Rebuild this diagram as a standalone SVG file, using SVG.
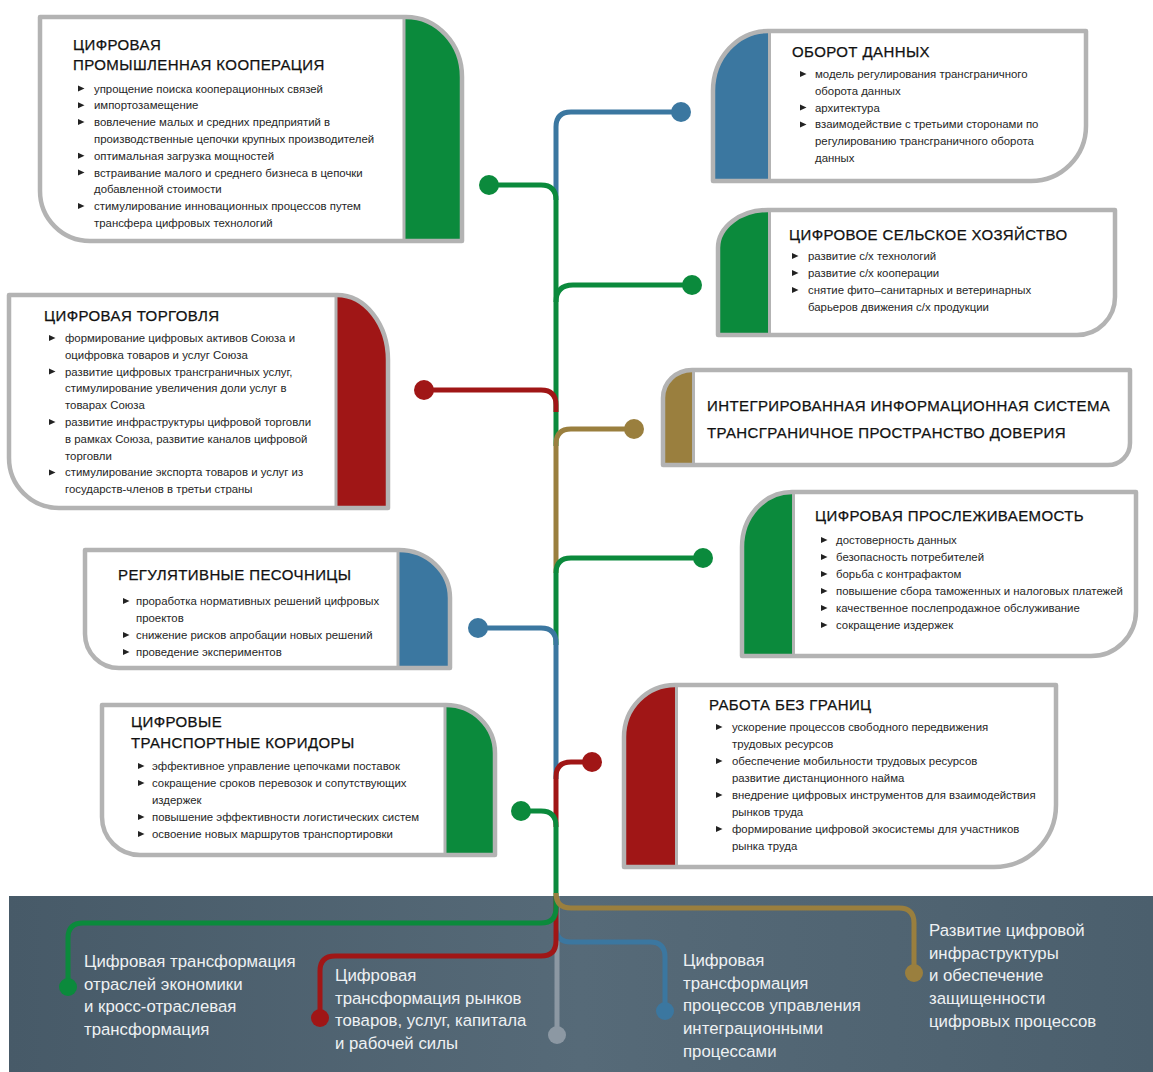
<svg xmlns="http://www.w3.org/2000/svg" xmlns:xlink="http://www.w3.org/1999/xlink" width="1153" height="1072" viewBox="0 0 1153 1072">
<style>
.fw{fill:#fff}
.bd{fill:none;stroke:#b3b3b3;stroke-width:4.5;stroke-linejoin:round}
.sep{stroke:#b3b3b3;stroke-width:3}
.g{fill:#0b8a3c}.r{fill:#a01616}.b{fill:#3b77a0}.o{fill:#9a7f3e}
.h{font-family:"Liberation Sans",Arial,sans-serif;font-size:15px;letter-spacing:0.4px;fill:#111;stroke:#111;stroke-width:0.25}
.t{font-family:"Liberation Sans",Arial,sans-serif;font-size:11.4px;fill:#262626}
.tri{fill:#222}
.ln{fill:none;stroke-width:5}
.sg{stroke:#0b8a3c}.sr{stroke:#a01616}.sb{stroke:#3b77a0}.so{stroke:#9a7f3e}.sy{stroke:#8c98a3}
.bt{font-family:"Liberation Sans",Arial,sans-serif;font-size:16.8px;fill:#eef1f3}
</style>
<defs>
<linearGradient id="band" x1="0" y1="0" x2="1" y2="0">
<stop offset="0" stop-color="#475a68"/>
<stop offset="0.5" stop-color="#566a78"/>
<stop offset="1" stop-color="#4b5f6d"/>
</linearGradient>
<polygon id="tr" points="0,-3 6.5,0 0,3"/>
<path id="o1" d="M40,17 H406 A56,60 0 0 1 462,77 V241 H90 A50,50 0 0 1 40,191 Z"/>
<path id="o2" d="M768,31 H1086 V126 A55,55 0 0 1 1031,181 H713 V91 A55,60 0 0 1 768,31 Z"/>
<path id="o3" d="M9,295 H337 A51,65 0 0 1 388,360 V508 H59 A50,50 0 0 1 9,458 Z"/>
<path id="o4" d="M768,210 H1115 V297 A38,38 0 0 1 1077,335 H718 V248 A50,38 0 0 1 768,210 Z"/>
<path id="o5" d="M692,370 H1130 V443 A22,22 0 0 1 1108,465 H663 V398 A29,28 0 0 1 692,370 Z"/>
<path id="o6" d="M792,492 H1136 V611 A45,45 0 0 1 1091,656 H742 V547 A50,55 0 0 1 792,492 Z"/>
<path id="o7" d="M85,550 H399 A51,48 0 0 1 450,598 V668 H119 A34,34 0 0 1 85,634 Z"/>
<path id="o8" d="M102,705 H446 A49,48 0 0 1 495,753 V855 H140 A38,38 0 0 1 102,817 Z"/>
<path id="o9" d="M675,685 H1056 V805 A62,62 0 0 1 994,867 H624 V737 A51,52 0 0 1 675,685 Z"/>
</defs>
<rect width="1153" height="1072" fill="#fff"/>
<rect x="9" y="896" width="1144" height="176" fill="url(#band)"/>

<g id="card1">
<use href="#o1" class="fw"/>
<path class="g" d="M405,17 H406 A56,60 0 0 1 462,77 V241 H405 Z"/>
<line class="sep" x1="404" y1="17" x2="404" y2="241"/>
<use href="#o1" class="bd"/>
<text class="h" x="73" y="49.5">ЦИФРОВАЯ</text>
<text class="h" x="73" y="69.5">ПРОМЫШЛЕННАЯ КООПЕРАЦИЯ</text>
<g class="tri"><use href="#tr" x="78" y="88.5"/><use href="#tr" x="78" y="105.3"/><use href="#tr" x="78" y="122.1"/><use href="#tr" x="78" y="155.7"/><use href="#tr" x="78" y="172.5"/><use href="#tr" x="78" y="206.1"/></g>
<text class="t" x="94" y="92.5">упрощение поиска кооперационных связей</text>
<text class="t" x="94" y="109.3">импортозамещение</text>
<text class="t" x="94" y="126.1">вовлечение малых и средних предприятий в</text>
<text class="t" x="94" y="142.9">производственные цепочки крупных производителей</text>
<text class="t" x="94" y="159.7">оптимальная загрузка мощностей</text>
<text class="t" x="94" y="176.5">встраивание малого и среднего бизнеса в цепочки</text>
<text class="t" x="94" y="193.3">добавленной стоимости</text>
<text class="t" x="94" y="210.1">стимулирование инновационных процессов путем</text>
<text class="t" x="94" y="226.9">трансфера цифровых технологий</text>
</g>

<g id="card2">
<use href="#o2" class="fw"/>
<path class="b" d="M768,31 V181 H713 V91 A55,60 0 0 1 768,31 Z"/>
<line class="sep" x1="769.5" y1="31" x2="769.5" y2="181"/>
<use href="#o2" class="bd"/>
<text class="h" x="792" y="57">ОБОРОТ ДАННЫХ</text>
<g class="tri"><use href="#tr" x="800" y="74"/><use href="#tr" x="800" y="107.6"/><use href="#tr" x="800" y="124.4"/></g>
<text class="t" x="815" y="78">модель регулирования трансграничного</text>
<text class="t" x="815" y="94.8">оборота данных</text>
<text class="t" x="815" y="111.6">архитектура</text>
<text class="t" x="815" y="128.4">взаимодействие с третьими сторонами по</text>
<text class="t" x="815" y="145.2">регулированию трансграничного оборота</text>
<text class="t" x="815" y="162">данных</text>
</g>

<g id="card3">
<use href="#o3" class="fw"/>
<path class="r" d="M337,295 A51,65 0 0 1 388,360 V508 H337 Z"/>
<line class="sep" x1="336" y1="295" x2="336" y2="508"/>
<use href="#o3" class="bd"/>
<text class="h" x="44" y="321">ЦИФРОВАЯ ТОРГОВЛЯ</text>
<g class="tri"><use href="#tr" x="49" y="338"/><use href="#tr" x="49" y="371.6"/><use href="#tr" x="49" y="422"/><use href="#tr" x="49" y="472.4"/></g>
<text class="t" x="65" y="342">формирование цифровых активов Союза и</text>
<text class="t" x="65" y="358.8">оцифровка товаров и услуг Союза</text>
<text class="t" x="65" y="375.6">развитие цифровых трансграничных услуг,</text>
<text class="t" x="65" y="392.4">стимулирование увеличения доли услуг в</text>
<text class="t" x="65" y="409.2">товарах Союза</text>
<text class="t" x="65" y="426">развитие инфраструктуры цифровой торговли</text>
<text class="t" x="65" y="442.8">в рамках Союза, развитие каналов цифровой</text>
<text class="t" x="65" y="459.6">торговли</text>
<text class="t" x="65" y="476.4">стимулирование экспорта товаров и услуг из</text>
<text class="t" x="65" y="493.2">государств-членов в третьи страны</text>
</g>

<g id="card4">
<use href="#o4" class="fw"/>
<path class="g" d="M768,210 V335 H718 V248 A50,38 0 0 1 768,210 Z"/>
<line class="sep" x1="769.5" y1="210" x2="769.5" y2="335"/>
<use href="#o4" class="bd"/>
<text class="h" x="789" y="240">ЦИФРОВОЕ СЕЛЬСКОЕ ХОЗЯЙСТВО</text>
<g class="tri"><use href="#tr" x="792" y="256"/><use href="#tr" x="792" y="273"/><use href="#tr" x="792" y="290"/></g>
<text class="t" x="808" y="260">развитие с/х технологий</text>
<text class="t" x="808" y="277">развитие с/х кооперации</text>
<text class="t" x="808" y="294">снятие фито–санитарных и ветеринарных</text>
<text class="t" x="808" y="311">барьеров движения с/х продукции</text>
</g>

<g id="card5">
<use href="#o5" class="fw"/>
<path class="o" d="M692,370 V465 H663 V398 A29,28 0 0 1 692,370 Z"/>
<line class="sep" x1="693.5" y1="370" x2="693.5" y2="465"/>
<use href="#o5" class="bd"/>
<text class="h" x="707" y="411">ИНТЕГРИРОВАННАЯ ИНФОРМАЦИОННАЯ СИСТЕМА</text>
<text class="h" x="707" y="438">ТРАНСГРАНИЧНОЕ ПРОСТРАНСТВО ДОВЕРИЯ</text>
</g>

<g id="card6">
<use href="#o6" class="fw"/>
<path class="g" d="M792,492 V656 H742 V547 A50,55 0 0 1 792,492 Z"/>
<line class="sep" x1="793.5" y1="492" x2="793.5" y2="656"/>
<use href="#o6" class="bd"/>
<text class="h" x="815" y="521">ЦИФРОВАЯ ПРОСЛЕЖИВАЕМОСТЬ</text>
<g class="tri"><use href="#tr" x="821" y="540"/><use href="#tr" x="821" y="557"/><use href="#tr" x="821" y="574"/><use href="#tr" x="821" y="591"/><use href="#tr" x="821" y="608"/><use href="#tr" x="821" y="625"/></g>
<text class="t" x="836" y="544">достоверность данных</text>
<text class="t" x="836" y="561">безопасность потребителей</text>
<text class="t" x="836" y="578">борьба с контрафактом</text>
<text class="t" x="836" y="595">повышение сбора таможенных и налоговых платежей</text>
<text class="t" x="836" y="612">качественное послепродажное обслуживание</text>
<text class="t" x="836" y="629">сокращение издержек</text>
</g>

<g id="card7">
<use href="#o7" class="fw"/>
<path class="b" d="M399,550 A51,48 0 0 1 450,598 V668 H399 Z"/>
<line class="sep" x1="398" y1="550" x2="398" y2="668"/>
<use href="#o7" class="bd"/>
<text class="h" x="118" y="580">РЕГУЛЯТИВНЫЕ ПЕСОЧНИЦЫ</text>
<g class="tri"><use href="#tr" x="123" y="601"/><use href="#tr" x="123" y="635"/><use href="#tr" x="123" y="652"/></g>
<text class="t" x="136" y="605">проработка нормативных решений цифровых</text>
<text class="t" x="136" y="622">проектов</text>
<text class="t" x="136" y="639">снижение рисков апробации новых решений</text>
<text class="t" x="136" y="656">проведение экспериментов</text>
</g>

<g id="card8">
<use href="#o8" class="fw"/>
<path class="g" d="M446,705 A49,48 0 0 1 495,753 V855 H446 Z"/>
<line class="sep" x1="445" y1="705" x2="445" y2="855"/>
<use href="#o8" class="bd"/>
<text class="h" x="131" y="727">ЦИФРОВЫЕ</text>
<text class="h" x="131" y="748">ТРАНСПОРТНЫЕ КОРИДОРЫ</text>
<g class="tri"><use href="#tr" x="138" y="766"/><use href="#tr" x="138" y="783"/><use href="#tr" x="138" y="817"/><use href="#tr" x="138" y="834"/></g>
<text class="t" x="152" y="770">эффективное управление цепочками поставок</text>
<text class="t" x="152" y="787">сокращение сроков перевозок и сопутствующих</text>
<text class="t" x="152" y="804">издержек</text>
<text class="t" x="152" y="821">повышение эффективности логистических систем</text>
<text class="t" x="152" y="838">освоение новых маршрутов транспортировки</text>
</g>

<g id="card9">
<use href="#o9" class="fw"/>
<path class="r" d="M675,685 V867 H624 V737 A51,52 0 0 1 675,685 Z"/>
<line class="sep" x1="676.5" y1="685" x2="676.5" y2="867"/>
<use href="#o9" class="bd"/>
<text class="h" x="709" y="710">РАБОТА БЕЗ ГРАНИЦ</text>
<g class="tri"><use href="#tr" x="716" y="727"/><use href="#tr" x="716" y="761"/><use href="#tr" x="716" y="795"/><use href="#tr" x="716" y="829"/></g>
<text class="t" x="732" y="731">ускорение процессов свободного передвижения</text>
<text class="t" x="732" y="748">трудовых ресурсов</text>
<text class="t" x="732" y="765">обеспечение мобильности трудовых ресурсов</text>
<text class="t" x="732" y="782">развитие дистанционного найма</text>
<text class="t" x="732" y="799">внедрение цифровых инструментов для взаимодействия</text>
<text class="t" x="732" y="816">рынков труда</text>
<text class="t" x="732" y="833">формирование цифровой экосистемы для участников</text>
<text class="t" x="732" y="850">рынка труда</text>
</g>

<g id="connectors">
<path class="ln sb" d="M556,200 V127 Q556,112 571,112 H681"/>
<path class="ln sg" d="M489,185 H541 Q556,185 556,200 V446"/>
<path class="ln sg" d="M556,302 Q556,285 573,285 H692"/>
<path class="ln sr" d="M424,390 H541 Q556,390 556,405 V412"/>
<path class="ln so" d="M556,573 V444 Q556,429 571,429 H634"/>
<path class="ln sg" d="M556,645 V573 Q556,558 571,558 H703"/>
<path class="ln sb" d="M478,628 H541 Q556,628 556,643 V779"/>
<path class="ln sr" d="M556,827 V777 Q556,762 571,762 H592"/>
<path class="ln sg" d="M521,811 H541 Q556,811 556,826 V898"/>
<path class="ln sy" d="M557,896 V1035"/>
<path class="ln sb" d="M556,896 V927 Q556,942 571,942 H650 Q665,942 665,957 V1011"/>
<path class="ln sr" d="M556,896 V941 Q556,956 541,956 H335 Q320,956 320,971 V1018"/>
<path class="ln sg" d="M556,896 V908 Q556,923 541,923 H83 Q68,923 68,938 V987"/>
<path class="ln so" d="M556,893 Q556,908 571,908 H899 Q914,908 914,923 V973"/>
<g>
<circle cx="681" cy="112" r="10" class="b"/>
<circle cx="489" cy="185" r="10" class="g"/>
<circle cx="692" cy="285" r="10" class="g"/>
<circle cx="424" cy="390" r="10" class="r"/>
<circle cx="634" cy="429" r="10" class="o"/>
<circle cx="703" cy="558" r="10" class="g"/>
<circle cx="478" cy="628" r="10" class="b"/>
<circle cx="592" cy="762" r="10" class="r"/>
<circle cx="521" cy="811" r="10" class="g"/>
<circle cx="68" cy="987" r="9" class="g"/>
<circle cx="320" cy="1018" r="9" class="r"/>
<circle cx="557" cy="1035" r="9" fill="#8c98a3"/>
<circle cx="665" cy="1011" r="9" class="b"/>
<circle cx="914" cy="973" r="9" class="o"/>
</g>
</g>

<g id="bottom-labels">
<text class="bt" x="84" y="967">Цифровая трансформация</text>
<text class="bt" x="84" y="989.7">отраслей экономики</text>
<text class="bt" x="84" y="1012.4">и кросс-отраслевая</text>
<text class="bt" x="84" y="1035.1">трансформация</text>
<text class="bt" x="335" y="981">Цифровая</text>
<text class="bt" x="335" y="1003.7">трансформация рынков</text>
<text class="bt" x="335" y="1026.4">товаров, услуг, капитала</text>
<text class="bt" x="335" y="1049.1">и рабочей силы</text>
<text class="bt" x="683" y="966">Цифровая</text>
<text class="bt" x="683" y="988.7">трансформация</text>
<text class="bt" x="683" y="1011.4">процессов управления</text>
<text class="bt" x="683" y="1034.1">интеграционными</text>
<text class="bt" x="683" y="1056.8">процессами</text>
<text class="bt" x="929" y="936">Развитие цифровой</text>
<text class="bt" x="929" y="958.7">инфраструктуры</text>
<text class="bt" x="929" y="981.4">и обеспечение</text>
<text class="bt" x="929" y="1004.1">защищенности</text>
<text class="bt" x="929" y="1026.8">цифровых процессов</text>
</g>
</svg>
